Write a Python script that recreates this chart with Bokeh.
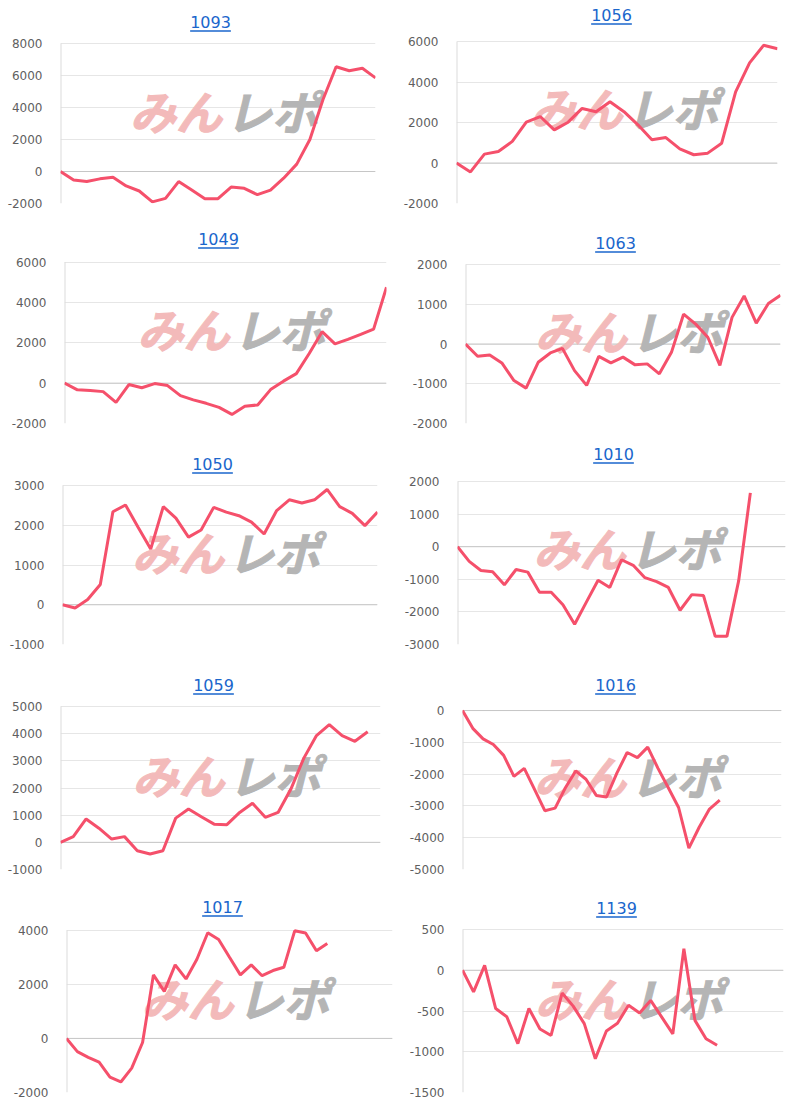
from bokeh.plotting import figure
from bokeh.models import Range1d, FixedTicker, Label, Span, Arrow
from bokeh.layouts import column, row
from bokeh.embed import file_html
from bokeh.resources import INLINE

# ---------------- data ----------------
titles = ["1093", "1056", "1049", "1063", "1050", "1010", "1059", "1016", "1017", "1139"]

v1093 = [0, -530, -620, -460, -360, -900, -1220, -1900, -1680, -630, -1160, -1700, -1700,
         -970, -1050, -1450, -1160, -420, 460, 2000, 4500, 6550, 6300, 6450, 5850]
v1056 = [0, -440, 440, 570, 1070, 2020, 2300, 1640, 2020, 2700, 2540, 3030, 2540, 1890,
         1150, 1260, 700, 410, 490, 980, 3520, 4950, 5820, 5650]
v1049 = [0, -330, -370, -420, -950, -70, -230, -20, -120, -620, -830, -1000, -1200, -1550,
         -1150, -1080, -320, 100, 470, 1470, 2550, 1950, 2170, 2420, 2680, 4750]
v1063 = [0, -310, -275, -475, -920, -1110, -460, -225, -110, -670, -1040, -310, -475, -330,
         -525, -500, -750, -210, 750, 500, 170, -540, 670, 1210, 525, 1020, 1225]
v1050 = [0, -80, 130, 510, 2340, 2510, 1950, 1400, 2470, 2180, 1700, 1880, 2450, 2330,
         2240, 2080, 1780, 2370, 2640, 2560, 2640, 2900, 2470, 2300, 1990, 2330]
v1010 = [0, -450, -730, -770, -1170, -700, -780, -1400, -1400, -1780, -2380, -1700, -1030,
         -1250, -400, -570, -950, -1070, -1250, -1950, -1470, -1500, -2750, -2750, -1050, 1650]
v1059 = [0, 210, 860, 520, 120, 210, -310, -430, -310, 890, 1230, 940, 670, 650, 1100,
         1440, 920, 1100, 1960, 3090, 3930, 4330, 3930, 3720, 4070]
v1016 = [0, -560, -890, -1070, -1410, -2070, -1820, -2480, -3150, -3070, -2430, -1900, -2160,
         -2670, -2720, -1970, -1320, -1480, -1150, -1820, -2430, -3050, -4330, -3670, -3100, -2820]
v1017 = [0, -490, -700, -880, -1430, -1610, -1100, -150, 2350, 1740, 2720, 2200, 2930, 3910,
         3660, 3000, 2350, 2720, 2320, 2510, 2630, 3980, 3900, 3240, 3510]
v1139 = [0, -265, 60, -470, -570, -900, -470, -720, -800, -280, -440, -655, -1085, -745,
         -650, -430, -525, -370, -575, -780, 265, -615, -840, -920]

# number of x categories (days) on each chart's axis
slots = [25, 24, 26, 27, 26, 29, 26, 32, 31, 30]

ticks_1093 = [-2000, 0, 2000, 4000, 6000, 8000]
ticks_1056 = [-2000, 0, 2000, 4000, 6000]
ticks_1049 = [-2000, 0, 2000, 4000, 6000]
ticks_1063 = [-2000, -1000, 0, 1000, 2000]
ticks_1050 = [-1000, 0, 1000, 2000, 3000]
ticks_1010 = [-3000, -2000, -1000, 0, 1000, 2000]
ticks_1059 = [-1000, 0, 1000, 2000, 3000, 4000, 5000]
ticks_1016 = [-5000, -4000, -3000, -2000, -1000, 0]
ticks_1017 = [-2000, 0, 2000, 4000]
ticks_1139 = [-1500, -1000, -500, 0, 500]

series = [v1093, v1056, v1049, v1063, v1050, v1010, v1059, v1016, v1017, v1139]
ticks = [ticks_1093, ticks_1056, ticks_1049, ticks_1063, ticks_1050,
         ticks_1010, ticks_1059, ticks_1016, ticks_1017, ticks_1139]

# ---------------- layout / style ----------------
PANEL_W = 400
row_heights = [220, 220, 220, 220, 226]
# (left, right, top, bottom, title center x, title center y) in panel pixels
geom = [
    (60, 25, 43, 17, 210, 21),
    (53, 23, 42, 13, 208, 18),
    (64, 14, 42, 15, 218, 20),
    (65, 20, 44, 17, 215, 22),
    (62, 23, 45, 16, 212, 23),
    (57, 15, 42, 11, 213, 18),
    (60, 20, 46, 11, 213, 24),
    (62, 19, 51, 7, 215, 28),
    (66, 8, 50, 13, 222, 27),
    (62, 17, 49, 14, 216, 27),
]

LINE_COLOR = "#f5506b"
GRID_COLOR = "#e6e6e6"
ZERO_COLOR = "#c6c6c6"
EDGE_COLOR = "#dcdcdc"
LABEL_COLOR = "#5f5f5f"
TITLE_COLOR = "#1a66cc"
FONT = "DejaVu Sans"
CJK = "Noto Sans CJK JP"
TITLE_FS = 16
MARK_PINK = "#f3baba"
MARK_GRAY = "#b5b5b5"


def make_panel(i, h):
    title, vals, n, tk = titles[i], series[i], slots[i], ticks[i]
    left, right, top, bottom, tcx, tcy = geom[i]
    plot_h = h - top - bottom
    span = tk[-1] - tk[0]
    # frame reaches the panel top so the title can sit inside it
    y_top = tk[-1] + span * top / plot_h
    p = figure(width=PANEL_W, height=h, x_axis_type=None,
               x_range=Range1d(0, n - 1), y_range=Range1d(tk[0], y_top),
               output_backend="svg", toolbar_location=None,
               min_border_left=left, min_border_right=right,
               min_border_top=0, min_border_bottom=bottom)
    p.outline_line_color = None
    p.background_fill_color = "white"
    p.border_fill_color = "white"

    ax = p.yaxis[0]
    ax.ticker = FixedTicker(ticks=tk)
    ax.major_label_overrides = {t: str(t) for t in tk}
    ax.major_tick_line_color = None
    ax.minor_tick_line_color = None
    ax.axis_line_color = None
    ax.major_label_text_color = LABEL_COLOR
    ax.major_label_text_font = FONT
    ax.major_label_text_font_size = "12px"
    ax.major_label_standoff = 12

    p.ygrid.ticker = FixedTicker(ticks=tk)
    p.ygrid.grid_line_color = GRID_COLOR
    p.add_layout(Span(location=0, dimension="width", line_color=ZERO_COLOR,
                      line_width=1, level="underlay"))
    # left edge line of the plot area
    p.segment(x0=[0], y0=[tk[0]], x1=[0], y1=[tk[-1]], line_color=EDGE_COLOR, line_width=2)

    fw = PANEL_W - left - right
    # watermark
    cx, cy = fw / 2 + 6, plot_h / 2 + 14
    p.add_layout(Label(x=cx - 2, y=cy, x_units="screen", y_units="screen", text="みん",
                       text_align="right", text_baseline="middle", text_font=CJK,
                       text_font_size="46px", text_font_style="bold italic",
                       text_color=MARK_PINK, text_outline_color=MARK_PINK,
                       level="underlay"))
    p.add_layout(Label(x=cx + 2, y=cy, x_units="screen", y_units="screen", text="レポ",
                       text_align="left", text_baseline="middle", text_font=CJK,
                       text_font_size="46px", text_font_style="bold italic",
                       text_color=MARK_GRAY, text_outline_color=MARK_GRAY,
                       level="underlay"))

    xs = list(range(len(vals)))
    p.line(xs, vals, line_color=LINE_COLOR, line_width=3)

    # title (link style, underlined)
    tx = tcx - left
    ty = (h - bottom) - tcy
    p.add_layout(Label(x=tx, y=ty, x_units="screen", y_units="screen", text=title,
                       text_align="center", text_baseline="middle", text_font=FONT,
                       text_font_size=f"{TITLE_FS}px", text_color=TITLE_COLOR))
    tw = len(title) * 0.636 * TITLE_FS
    uy = ty - 9.5
    p.add_layout(Arrow(start=None, end=None, x_start=tx - tw / 2, y_start=uy,
                       x_end=tx + tw / 2, y_end=uy, start_units="screen",
                       end_units="screen", line_color=TITLE_COLOR, line_width=1.3))
    return p


rows = []
for r, h in enumerate(row_heights):
    rows.append(row(make_panel(2 * r, h), make_panel(2 * r + 1, h)))
layout = column(*rows)

open("out.html", "w").write(file_html(layout, INLINE))
